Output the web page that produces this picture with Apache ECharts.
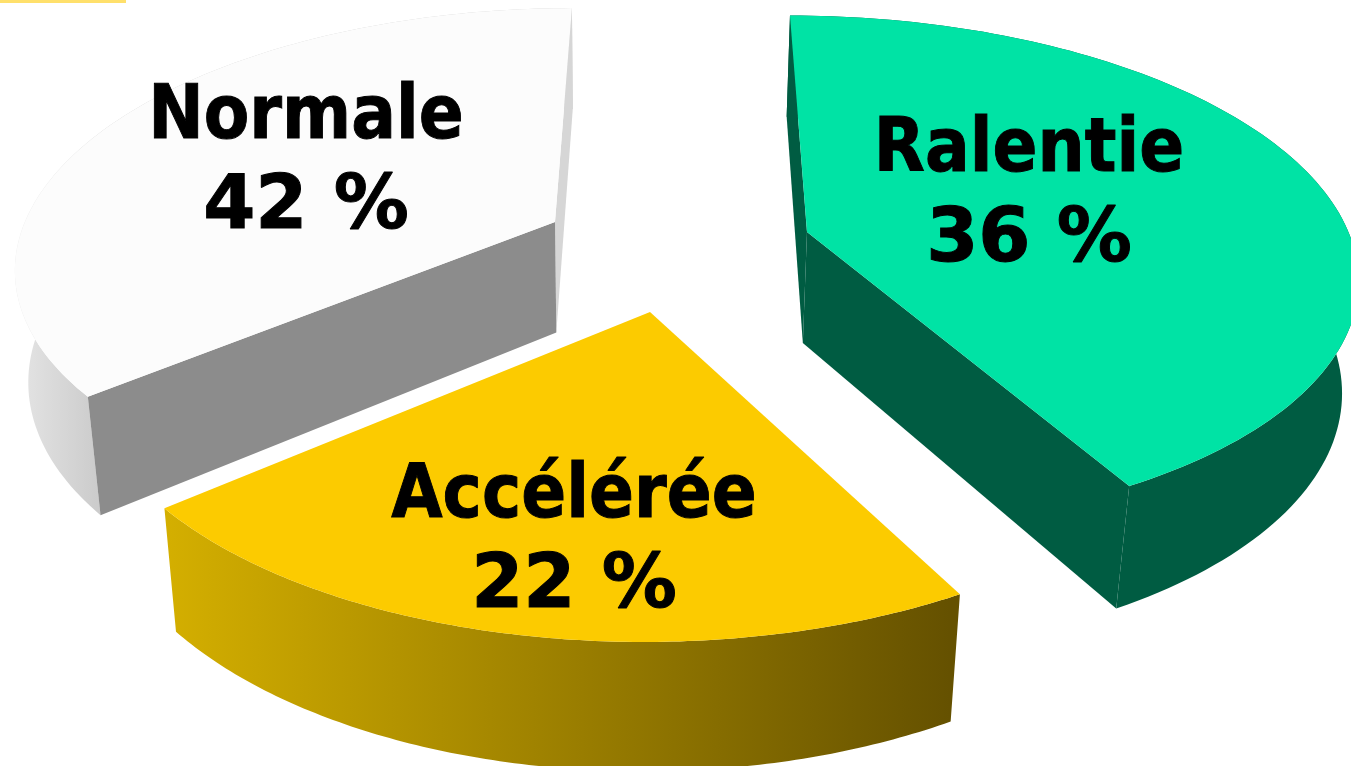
<!DOCTYPE html>
<html><head><meta charset="utf-8">
<style>html,body{margin:0;padding:0;background:#fff}#c{width:1351px;height:766px}</style>
<script src="https://cdn.jsdelivr.net/npm/echarts@6/dist/echarts.min.js"></script>
</head><body><div id="c"></div>
<script>
// Slice names and printed labels, exactly as the reference prints them.
var categories = ['Ralentie', 'Accélérée', 'Normale'];
var valueLabels = ['36 %', '22 %', '42 %'];
// Shares (the drawn Ralentie wedge is the widest one).
var drawnShares = [42, 22, 36];

// Perspective camera of the 3D pie: horizon point and vertical vanishing point.
var horizon = [681, -1370], nadir = [616, 5322];
var radiusU = [0.338, 0.333, 0.333], radiusV = 0.0000975;
var depth0 = 100.5, depthSlope = 0.045;
var apexes = [[807, 232], [650, 312], [555, 222]];
var labelOffsets = [[222, -80], [-76, 186], [-249, -103]];
var LG = echarts.graphic.LinearGradient;
var looks = [
  {top: '#00E3A5', rim: '#005C42', end: '#005C42', start: '#005C42'},
  {top: '#FCCB00', rim: new LG(165, 0, 950, 0, [{offset: 0, color: '#D4AF00'}, {offset: 1, color: '#655100'}], true)},
  {top: '#FCFCFC', rim: new LG(20, 0, 100, 0, [{offset: 0, color: '#E4E4E4'}, {offset: 1, color: '#CBCBCB'}], true), end: '#D6D6D6', start: '#8C8C8C'}
];

function rimPoint(i, deg) {
  var t = deg * Math.PI / 180, u = Math.sin(t), v = -Math.cos(t);
  var q0 = apexes[i][1] - horizon[1];
  var X = (apexes[i][0] - horizon[0]) / q0 + radiusU[i] * u;
  var Y = -1 / q0 + radiusV * v;
  var q = -1 / Y;
  return [horizon[0] + X * q, horizon[1] + q];
}
function lower(p) {
  var d = depth0 + depthSlope * p[1];
  var t = d / (nadir[1] - p[1]);
  return [p[0] + (nadir[0] - p[0]) * t, p[1] + d];
}
var total = drawnShares.reduce(function (a, b) { return a + b; }, 0);

function renderItem(params, api) {
  var i = params.dataIndex, before = 0;
  for (var j = 0; j < i; j++) before += drawnShares[j];
  var a0 = before / total * 360;
  var a1 = a0 + api.value(1) / total * 360;
  var arc = [], n = 120;
  for (var k = 0; k <= n; k++) arc.push(rimPoint(i, a0 + (a1 - a0) * k / n));
  var arcLow = arc.map(lower), apex = apexes[i], apexLow = lower(apex), look = looks[i];
  function poly(points, fill) {
    return {type: 'polygon', silent: true, shape: {points: points}, style: {fill: fill}};
  }
  var first = arc[0], last = arc[n];
  var kids = [poly(arc.concat(arcLow.slice().reverse()), look.rim)];
  if (look.end) kids.push(poly([apex, last, arcLow[n], apexLow], look.end));
  if (look.start) kids.push(poly([apex, first, arcLow[0], apexLow], look.start));
  kids.push(poly([apex].concat(arc), look.top));
  var ox = apex[0] + labelOffsets[i][0], oy = apex[1] + labelOffsets[i][1];
  [categories[i], valueLabels[i]].forEach(function (txt, line) {
    kids.push({type: 'text', silent: true, x: ox, y: oy + line * 90, scaleX: line ? 1 : 0.885,
      style: {text: txt, fill: '#000', stroke: '#000', lineWidth: 1, font: 'bold 75px "DejaVu Sans"', textAlign: 'center', textVerticalAlign: 'middle'}});
  });
  return {type: 'group', children: kids};
}

var chart = echarts.init(document.getElementById('c'), null, {renderer: 'canvas'});
chart.setOption({
  animation: false,
  backgroundColor: '#fff',
  graphic: [{type: 'rect', shape: {x: 0, y: 0, width: 126, height: 3}, style: {fill: '#FFE06B'}, silent: true}],
  series: [{
    type: 'custom', coordinateSystem: 'none', silent: true, clip: false,
    renderItem: renderItem,
    data: categories.map(function (c, i) { return {name: c, value: [i, drawnShares[i]]}; })
  }]
});
</script></body></html>
